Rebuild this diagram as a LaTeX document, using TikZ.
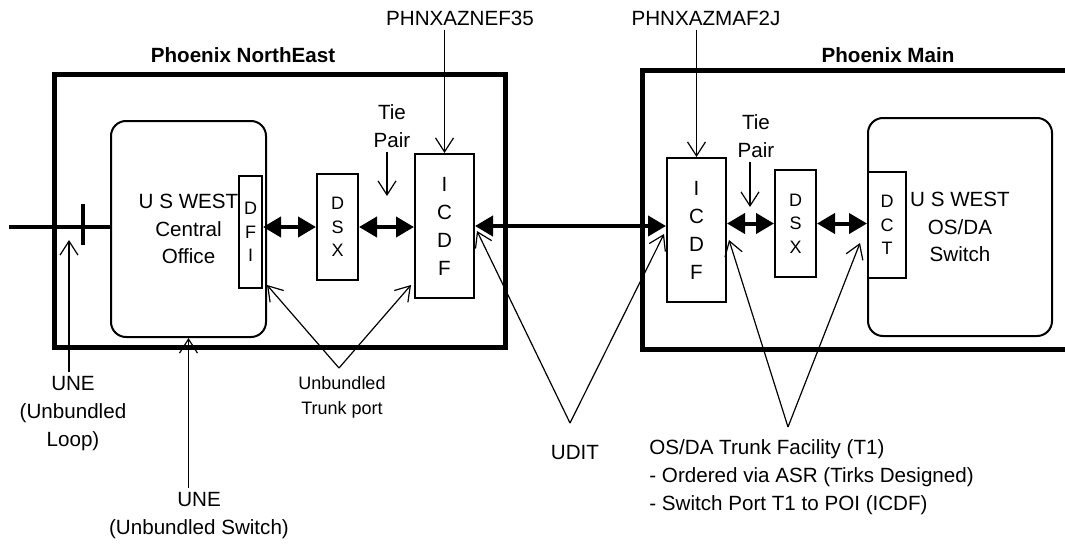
\documentclass[tikz,border=0pt]{standalone}
\usepackage{fontspec}
\setmainfont{Liberation Sans}
\usetikzlibrary{arrows.meta,positioning,calc}
\definecolor{inkclr}{RGB}{0,0,0}
\tikzset{
  site/.style={rectangle,draw=inkclr,line width=2.5pt},
  cobox/.style={rectangle,rounded corners=7.5pt,draw=inkclr,fill=white,line width=1pt,
    align=center,inner sep=0pt,font=\fontsize{10.3}{13.8}\selectfont},
  fbox/.style={rectangle,draw=inkclr,fill=white,line width=1pt,
    align=center,inner sep=0pt,font=\fontsize{10.3}{14}\selectfont},
  sfbox/.style={fbox,font=\fontsize{9}{11.75}\selectfont},
  lbl/.style={align=center,inner sep=2pt,text=inkclr,font=\fontsize{10.3}{14}\selectfont},
  slbl/.style={lbl,font=\fontsize{9}{12.5}\selectfont},
  hdr/.style={inner sep=2pt,font=\fontsize{10.3}{12}\selectfont\bfseries},
  arr/.style={-{Straight Barb[length=7pt,width=9pt]},line width=0.6pt,color=inkclr},
  dbl/.style={{Triangle[length=9pt,width=10pt]}-{Triangle[length=9pt,width=10pt]},
    line width=2pt,color=inkclr},
  feed/.style={line width=2pt,color=inkclr},
}
\begin{document}
\begin{tikzpicture}[x=0.5pt,y=-0.5pt]
  \useasboundingbox (0,0) rectangle (1065,546);
  % central office buildings
  \node[site,minimum width=225.5pt,minimum height=136.75pt] (ne) at (279.5,210.75) {};
  \coordinate (mnTop) at (1075,70);
  \coordinate (mnBot) at (1075,349.5);
  \draw[line width=2.5pt,color=inkclr] (mnTop) -| (642,349.5) -- (mnBot);
  \node[hdr] (neHdr) at (243,55) {Phoenix NorthEast};
  \node[hdr] (mnHdr) at (888,55) {Phoenix Main};

  % NorthEast side
  \node[cobox,minimum width=77.5pt,minimum height=108pt] (coL) at (188.5,229) {U S WEST\\Central\\Office};
  \node[sfbox,minimum width=11.5pt,minimum height=56pt] (dfi) at (250.5,232) {D\\F\\I};
  \node[sfbox,minimum width=20.5pt,minimum height=53pt] (dsxL) at (337.5,227) {D\\S\\X};
  \node[fbox,minimum width=29.5pt,minimum height=72pt] (icdfL) at (444.5,226) {I\\C\\D\\F};

  % Main side
  \node[fbox,minimum width=29.5pt,minimum height=72pt] (icdfR) at (696.5,230) {I\\C\\D\\F};
  \node[sfbox,minimum width=20.5pt,minimum height=53.5pt] (dsxR) at (795.5,223.5) {D\\S\\X};
  \node[cobox,minimum width=92pt,minimum height=109pt] (coR) at (960,227) {U S WEST\\OS/DA\\Switch};
  \node[sfbox,minimum width=19pt,minimum height=53pt] (dct) at (887,225) {D\\C\\T};

  % circuit ids and tie pairs
  \node[lbl] (idNE) at (460,18) {PHNXAZNEF35};
  \node[lbl] (idMN) at (706,18) {PHNXAZMAF2J};
  \draw[arr] (idNE.south -| icdfL.north) -- (icdfL.north);
  \draw[arr] (idMN.south -| icdfR.north) -- (icdfR.north);
  \node[lbl] (tieL) at (392,126) {Tie\\Pair};
  \coordinate (tieLEnd) at (387,196);
  \draw[arr] (tieL.south -| tieLEnd) -- (tieLEnd);
  \node[lbl] (tieR) at (756,136.5) {Tie\\Pair};
  \coordinate (tieREnd) at (750,207);
  \draw[arr] (tieR.south -| tieREnd) -- (tieREnd);

  % cross connects
  \draw[dbl] (dfi.east |- dsxL.west) -- (dsxL.west);
  \draw[dbl] (dsxL.east) -- (dsxL.east -| icdfL.west);
  \draw[dbl] (icdfL.east) -- (icdfL.east -| icdfR.west);
  \draw[dbl] (dsxR.west -| icdfR.east) -- (dsxR.west);
  \draw[dbl] (dsxR.east) -- (dsxR.east -| dct.west);

  % loop
  \coordinate (loopIn) at (9,227);
  \draw[feed] (loopIn) -- (loopIn -| coL.west);
  \coordinate (tick) at (83,227);
  \draw[line width=1.8pt] ($(tick)+(0,-23)$) -- ($(tick)+(0,18)$);

  % callouts
  \node[lbl] (uneLoop) at (73,413.5) {UNE\\(Unbundled\\Loop)};
  \coordinate (loopTip) at (69,240);
  \draw[arr] (uneLoop.north -| loopTip) -- (loopTip);
  \node[lbl] (uneSw) at (199,515.5) {UNE\\(Unbundled Switch)};
  \draw[arr] (uneSw.north -| coL.south) -- (coL.south);

  \node[slbl] (trunk) at (342,397.5) {Unbundled\\Trunk port};
  \coordinate (trunkV) at (339,368);
  \draw[arr] (trunkV) -- ($(dfi.south east)+(4,-4)$);
  \draw[arr] (trunkV) -- ($(icdfL.south west)+(-3,-14)$);

  \node[lbl] (udit) at (575,453) {UDIT};
  \coordinate (uditV) at (570,423);
  \draw[arr] (uditV) -- ($(icdfL.east)+(2,5)$);
  \draw[arr] (uditV) -- ($(icdfR.west)+(-2,4)$);

  \node[lbl,anchor=west,align=left] (osda) at (645,477) {OS/DA Trunk Facility (T1)\\- Ordered via ASR (Tirks Designed)\\- Switch Port T1 to POI (ICDF)};
  \coordinate (osdaV) at (788,427);
  \draw[arr] (osdaV) -- ($(icdfR.east)+(2,10)$);
  \draw[arr] (osdaV) -- ($(dct.west)+(-7,18)$);
\end{tikzpicture}
\end{document}
